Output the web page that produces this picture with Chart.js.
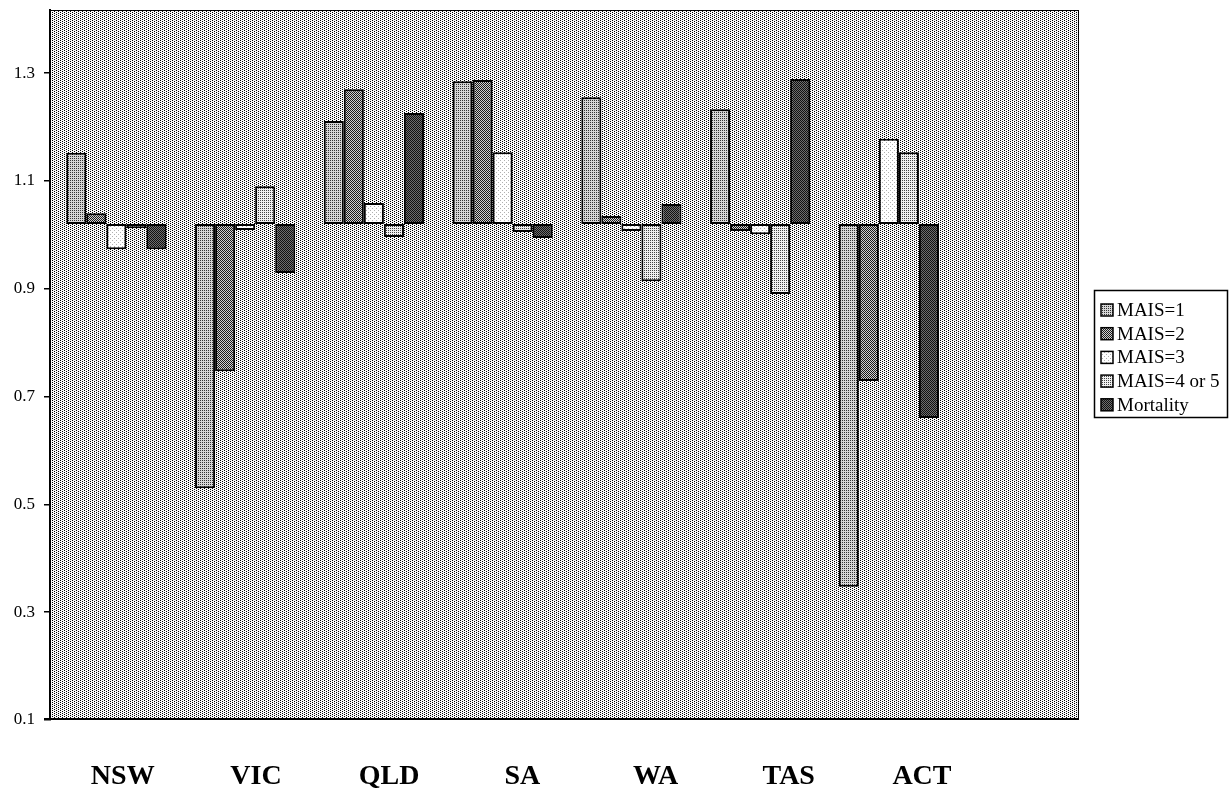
<!DOCTYPE html>
<html><head><meta charset="utf-8">
<script src="https://cdn.jsdelivr.net/npm/chart.js@4.4.1/dist/chart.umd.min.js"></script>
<style>html,body{margin:0;padding:0;background:#fff;}#wrap{width:1231px;height:796px;}</style>
</head><body><div id="wrap"><canvas id="c" width="1231" height="796"></canvas></div>
<script>
// ---- data ----
const categories = ['NSW', 'VIC', 'QLD', 'SA', 'WA', 'TAS', 'ACT'];
const seriesNames = ['MAIS=1', 'MAIS=2', 'MAIS=3', 'MAIS=4 or 5', 'Mortality'];
const baseline = 1.02;
const mais1 = [1.152, 0.53, 1.211, 1.285, 1.255, 1.233, 0.347];
const mais2 = [1.040, 0.747, 1.270, 1.287, 1.035, 1.007, 0.729];
const mais3 = [0.973, 1.009, 1.059, 1.153, 1.007, 1.001, 1.178];
const mais45 = [1.012, 1.090, 0.996, 1.005, 0.914, 0.890, 1.153];
const mortality = [0.973, 0.929, 1.226, 0.994, 1.057, 1.289, 0.660];
const yTicks = [0.1, 0.3, 0.5, 0.7, 0.9, 1.1, 1.3];

// ---- halftone patterns ----
function makePattern(w, h, cells, fg, bg) {
  const c = document.createElement('canvas');
  c.width = w; c.height = h;
  const x = c.getContext('2d');
  x.fillStyle = bg; x.fillRect(0, 0, w, h);
  x.fillStyle = fg;
  cells.forEach(([a, b]) => x.fillRect(a, b, 1, 1));
  return x.createPattern(c, 'repeat');
}
const bgPattern = makePattern(4, 2, [[0,0],[2,1]], '#000', '#fafafa');
const patterns = [
  makePattern(2, 2, [[0,0]], '#333', '#d6d6d6'),
  makePattern(2, 2, [[0,0],[1,1]], '#1a1a1a', '#cfcfcf'),
  makePattern(4, 4, [[0,0],[2,2]], '#b0b0b0', '#fff'),
  makePattern(2, 2, [[0,0]], '#444', '#f0f0f0'),
  makePattern(2, 2, [[0,0],[1,1]], '#111', '#6e6e6e')
];
const seriesValues = [mais1, mais2, mais3, mais45, mortality];

const SERIF = "'Liberation Serif', 'Times New Roman', serif";

const plotBg = {
  id: 'plotBg',
  afterLayout(chart) {
    // the bar groups in the reference sit on a slightly wider/shifted band than the frame
    const s = chart.scales.x, a = chart.chartArea;
    s.left = a.left + 2; s.right = a.right + 3; s.width = s.right - s.left;
    s.configure();
  },
  beforeDatasetsDraw(chart) {
    const {ctx, chartArea: a} = chart;
    ctx.save();
    ctx.fillStyle = bgPattern;
    ctx.fillRect(a.left, a.top, a.right - a.left, a.bottom - a.top);
    ctx.restore();
  },
  afterDatasetsDraw(chart) {
    const {ctx, chartArea: a} = chart;
    ctx.save();
    ctx.strokeStyle = '#000';
    ctx.lineWidth = 1;
    ctx.strokeRect(a.left + 0.5, a.top + 0.5, a.right - a.left - 1, a.bottom - a.top - 1);
    ctx.lineWidth = 2;
    ctx.beginPath();
    ctx.moveTo(a.left - 6, a.bottom - 1);
    ctx.lineTo(a.right, a.bottom - 1);
    ctx.stroke();
    ctx.restore();
  }
};

const boxLegend = {
  id: 'boxLegend',
  afterDraw(chart) {
    const ctx = chart.ctx;
    const bx = 1094, by = 290, bw = 133, bh = 127;
    ctx.save();
    ctx.fillStyle = '#fff';
    ctx.fillRect(bx, by, bw, bh);
    ctx.strokeStyle = '#000';
    ctx.lineWidth = 1.5;
    ctx.strokeRect(bx + 0.5, by + 0.5, bw, bh);
    ctx.font = '19px ' + SERIF;
    ctx.textBaseline = 'middle';
    ctx.textAlign = 'left';
    chart.data.datasets.forEach((ds, i) => {
      const cy = by + 20 + i * 23.7;
      ctx.fillStyle = ds.backgroundColor;
      ctx.fillRect(bx + 7, cy - 6, 12, 12);
      ctx.lineWidth = 1.5;
      ctx.strokeStyle = '#000';
      ctx.strokeRect(bx + 7, cy - 6, 12, 12);
      ctx.fillStyle = '#000';
      ctx.fillText(ds.label, bx + 23, cy + 1);
    });
    ctx.restore();
  }
};

const labelStart = -0.546, labelEnd = -0.546 + 7.725;

new Chart(document.getElementById('c'), {
  type: 'bar',
  data: {
    labels: categories.concat(['']),
    datasets: seriesNames.map((name, i) => ({
      label: name,
      data: seriesValues[i].map(v => [baseline, v]),
      backgroundColor: patterns[i],
      borderColor: '#000',
      borderWidth: 2,
      borderSkipped: false,
      categoryPercentage: 0.778,
      barPercentage: 1
    }))
  },
  options: {
    responsive: false,
    animation: false,
    devicePixelRatio: 1,
    layout: { padding: { top: 10, right: 152, left: 0, bottom: 0 } },
    plugins: { legend: { display: false }, tooltip: { enabled: false } },
    scales: {
      x: { display: false, type: 'category' },
      xl: {
        type: 'linear', position: 'bottom', weight: 1, bounds: 'data', offset: false,
        min: labelStart, max: labelEnd,
        afterBuildTicks: s => { s.ticks = categories.map((c, i) => ({ value: i })); },
        afterFit: s => { s.height = 76; s.paddingLeft = 0; s.paddingRight = 0; },
        grid: { display: false, drawTicks: false, offset: false },
        border: { display: false },
        ticks: {
          autoSkip: false, maxRotation: 0, padding: 40, color: '#000',
          font: { family: SERIF, size: 28, weight: 'bold' },
          callback: v => categories[v]
        }
      },
      y: {
        min: 0.1, max: 1.417,
        afterBuildTicks: s => { s.ticks = yTicks.map(v => ({ value: v })); },
        afterFit: s => { s.width = 50; s.paddingTop = 0; s.paddingBottom = 0; },
        grid: { drawOnChartArea: false, drawTicks: true, tickLength: 6, color: '#000', lineWidth: 1.5 },
        border: { display: true, color: '#000', width: 2 },
        ticks: {
          padding: 9, color: '#000',
          font: { family: SERIF, size: 17 },
          callback: v => Number(v).toFixed(1)
        }
      }
    }
  },
  plugins: [plotBg, boxLegend]
});
</script></body></html>
